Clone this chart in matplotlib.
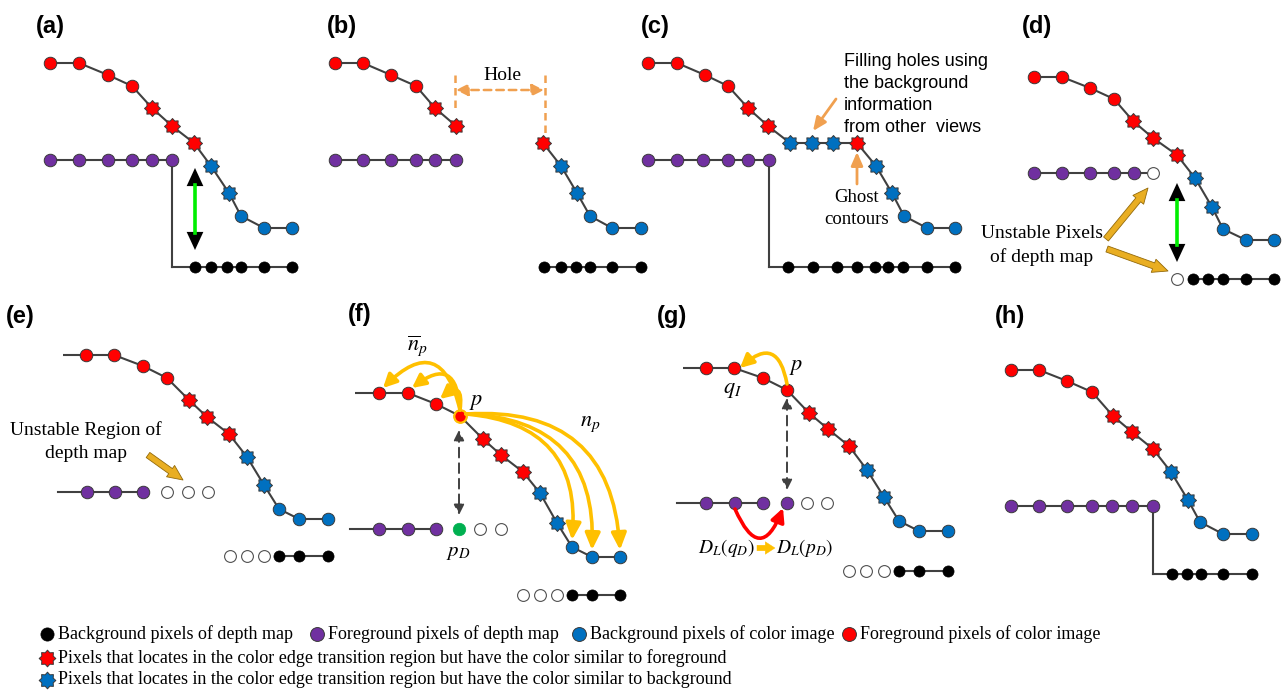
"""
Depth/colour edge schematic, panels (a)-(h), redrawn with matplotlib.

One axes covers the whole figure in pixel units (y pointing down), so every
pixel row is drawn from the small point lists below.
"""

import numpy as np
import matplotlib

matplotlib.use("Agg")
import matplotlib.pyplot as plt
from matplotlib.path import Path
from matplotlib.patches import FancyArrowPatch

plt.rcParams["mathtext.fontset"] = "stix"

SERIF = "Liberation Serif"
SANS = "Liberation Sans"

# ---- data: (x, y, kind) along the colour-image edge profile -------------
# kind: R red circle, r red star, b blue star, B blue circle
A_COLOR = [(50, 63, "R"), (79, 63, "R"), (108, 75, "R"), (132, 86, "R"), (152, 108, "r"),
           (172, 126, "r"), (194, 143, "r"), (211, 166, "b"), (229, 193, "b"),
           (241, 216, "B"), (264, 228, "B"), (292, 228, "B")]
B_COLOR_LEFT = [(335, 63, "R"), (363, 63, "R"), (391, 75, "R"), (416, 86, "R"),
                (435, 108, "r"), (456, 126, "r")]
B_COLOR_RIGHT = [(543, 143, "r"), (561, 166, "b"), (577, 193, "b"), (590, 216, "B"),
                 (612, 228, "B"), (641, 228, "B")]
C_COLOR = [(648, 63, "R"), (677, 63, "R"), (705, 75, "R"), (728, 86, "R"), (748, 108, "r"),
           (768, 126, "r"), (790, 143, "b"), (812, 143, "b"), (833, 143, "b"),
           (857, 143, "r"), (876, 166, "b"), (892, 193, "b"), (904, 216, "B"),
           (927, 228, "B"), (955, 228, "B")]
D_COLOR = [(1034, 77, "R"), (1062, 77, "R"), (1090, 88, "R"), (1114, 99, "R"),
           (1133, 121, "r"), (1153, 138, "r"), (1177, 155, "r"), (1195, 178, "b"),
           (1212, 207, "b"), (1223, 229, "B"), (1246, 240, "B"), (1274, 240, "B")]
E_COLOR = [(86, 355, "R"), (114, 355, "R"), (143, 366, "R"), (167, 378, "R"),
           (189, 400, "r"), (207, 417, "r"), (229, 434, "r"), (247, 457, "b"),
           (264, 485, "b"), (279, 509, "B"), (299, 519, "B"), (328, 519, "B")]
F_COLOR = [(379, 393, "R"), (408, 393, "R"), (436, 404, "R"), (460, 416, "R"),
           (483, 439, "r"), (501, 455, "r"), (523, 472, "r"), (540, 493, "b"),
           (557, 523, "b"), (572, 547, "B"), (592, 557, "B"), (620, 557, "B")]
G_COLOR = [(706, 368, "R"), (734, 368, "R"), (763, 378, "R"), (787, 390, "R"),
           (809, 413, "r"), (828, 429, "r"), (849, 446, "r"), (867, 470, "b"),
           (884, 497, "b"), (899, 521, "B"), (919, 531, "B"), (948, 531, "B")]
H_COLOR = [(1011, 370, "R"), (1039, 370, "R"), (1067, 381, "R"), (1092, 392, "R"),
           (1113, 416, "r"), (1132, 432, "r"), (1153, 449, "r"), (1171, 472, "b"),
           (1188, 500, "b"), (1200, 522, "B"), (1223, 534, "B"), (1252, 534, "B")]
COLOR_STUB_X = {"e": 63, "f": 355, "g": 683}

# ---- data: depth-map rows (y, xs, kinds, line span) ----------------------
# kind: P purple, K black, O unstable (open), G green p_D
A_FG = (160, [50, 79, 108, 132, 152, 172], "PPPPPP", (50, 172))
A_BG = (267, [195, 211, 227, 241, 264, 292], "KKKKKK", (172, 292))
B_FG = (160, [335, 363, 391, 416, 435, 456], "PPPPPP", (335, 456))
B_BG = (267, [544, 561, 576, 590, 612, 641], "KKKKKK", (544, 641))
C_FG = (160, [648, 677, 703, 728, 748, 769], "PPPPPP", (648, 769))
C_BG = (267, [788, 813, 837, 857, 875, 888, 903, 927, 955], "KKKKKKKKK", (769, 955))
D_FG = (173, [1034, 1062, 1090, 1114, 1134, 1153], "PPPPPO", (1034, 1153))
D_BG = (279, [1177, 1193, 1208, 1223, 1246, 1274], "OKKKKK", (1193, 1274))
E_FG = (492, [87, 115, 143, 167, 188, 208], "PPPOOO", (58, 143))
E_BG = (556, [230, 247, 264, 279, 299, 328], "OOOKKK", (279, 328))
F_FG = (529, [379, 408, 436, 459, 480, 501], "PPPGOO", (350, 436))
F_BG = (595, [523, 540, 557, 572, 592, 620], "OOOKKK", (572, 620))
G_FG = (503, [706, 735, 763, 787, 807, 827], "PPPPOO", (677, 763))
G_BG = (571, [849, 866, 884, 899, 919, 948], "OOOKKK", (899, 948))
H_FG = (506, [1011, 1039, 1067, 1092, 1112, 1132, 1153], "PPPPPPP", (1011, 1153))
H_BG = (574, [1172, 1187, 1201, 1223, 1252], "KKKKK", (1153, 1252))
STEP_PANELS = [(A_FG, A_BG), (C_FG, C_BG), (H_FG, H_BG)]

PANEL_LABELS = ["(a)", "(b)", "(c)", "(d)", "(e)", "(f)", "(g)", "(h)"]
PANEL_LABEL_XY = [(36, 26), (327, 26), (641, 26), (1022, 26),
                  (6, 316), (348, 315), (657, 317), (995, 316)]

LEGEND_ROW1 = ["Background pixels of depth map", "Foreground pixels of depth map",
               "Background pixels of color image", "Foreground pixels of color image"]
LEGEND_ROW1_KINDS = "KPBR"
LEGEND_ROW2 = "Pixels that locates in the color edge transition region but have the color similar to foreground"
LEGEND_ROW3 = "Pixels that locates in the color edge transition region but have the color similar to background"

# ---- styles ---------------------------------------------------------------
LINE_C = "#404040"
RED, BLUE, PURPLE = "#FF0000", "#0070C0", "#7030A0"
ORANGE = "#F0A050"
GOLD = "#FFC000"
ARROW_GOLD = "#E9AE22"
LEGEND_FS = 13


def star_path(n=8, inner=0.74):
    ang = np.arange(2 * n) * np.pi / n + np.pi / 2
    r = np.where(np.arange(2 * n) % 2 == 0, 1.0, inner)
    verts = np.column_stack([r * np.cos(ang), r * np.sin(ang)])
    return Path(np.vstack([verts, verts[:1]]), closed=True)


STAR = star_path()
EDGE = dict(mec="#3a3a3a", mew=0.7)
KIND_STYLE = {
    "R": dict(marker="o", ms=9, mfc=RED, **EDGE),
    "B": dict(marker="o", ms=9, mfc=BLUE, **EDGE),
    "P": dict(marker="o", ms=9, mfc=PURPLE, **EDGE),
    "K": dict(marker="o", ms=8, mfc="black", mec="black", mew=0.5),
    "O": dict(marker="o", ms=8.5, mfc="white", mec="#505050", mew=0.8),
    "G": dict(marker="o", ms=9, mfc="#00B050", mec="#00B050", mew=0.5),
    "r": dict(marker=STAR, ms=11.5, mfc=RED, **EDGE),
    "b": dict(marker=STAR, ms=11.5, mfc=BLUE, **EDGE),
}


def draw_marker(ax, x, y, kind, **extra):
    st = dict(KIND_STYLE[kind])
    st.update(extra)
    ax.plot([x], [y], linestyle="none", zorder=3, **st)


def draw_curve(ax, pts, stub_x=None):
    xs = [p[0] for p in pts]
    ys = [p[1] for p in pts]
    if stub_x is not None:
        xs, ys = [stub_x] + xs, [ys[0]] + ys
    ax.plot(xs, ys, color=LINE_C, lw=1.5, zorder=1, solid_capstyle="butt")
    for x, y, k in pts:
        draw_marker(ax, x, y, k)


def draw_row(ax, row):
    y, xs, kinds, span = row
    ax.plot(span, [y, y], color=LINE_C, lw=1.5, zorder=1)
    for x, k in zip(xs, kinds):
        draw_marker(ax, x, y, k)


def arrow(ax, a, b, style, **kw):
    kw.setdefault("shrinkA", 0)
    kw.setdefault("shrinkB", 0)
    p = FancyArrowPatch(a, b, arrowstyle=style, mutation_scale=1, zorder=4, **kw)
    ax.add_patch(p)
    return p


def green_arrow(ax, x, y0, y1):
    arrow(ax, (x, y0), (x, y1), "<|-|>,head_length=13,head_width=6",
          color="black", lw=0.01)
    ax.plot([x, x], [y0 + 17, y1 - 17], color="#00EE00", lw=2.6, zorder=4)


def fat_arrow(ax, a, b, scale=1.0):
    arrow(ax, a, b,
          f"simple,head_length={11*scale},head_width={10*scale},tail_width={4.5*scale}",
          fc=ARROW_GOLD, ec="#946A0A", lw=0.6)


fig = plt.figure(figsize=(12.83, 6.95), dpi=100)
ax = fig.add_axes([0, 0, 1, 1])
ax.set_xlim(0, 1283)
ax.set_ylim(695, 0)
ax.axis("off")

# profiles
draw_curve(ax, A_COLOR)
draw_curve(ax, B_COLOR_LEFT)
draw_curve(ax, B_COLOR_RIGHT)
draw_curve(ax, C_COLOR)
draw_curve(ax, D_COLOR)
draw_curve(ax, E_COLOR, COLOR_STUB_X["e"])
draw_curve(ax, F_COLOR, COLOR_STUB_X["f"])
draw_curve(ax, G_COLOR, COLOR_STUB_X["g"])
draw_curve(ax, H_COLOR)

for row in [A_FG, A_BG, B_FG, B_BG, C_FG, C_BG, D_FG, D_BG, E_FG, E_BG,
            F_FG, F_BG, G_FG, G_BG, H_FG, H_BG]:
    draw_row(ax, row)
for fg, bg in STEP_PANELS:
    ax.plot([fg[1][-1]] * 2, [fg[0], bg[0]], color=LINE_C, lw=1.5, zorder=1)

# p in (f) has a gold rim
draw_marker(ax, F_COLOR[3][0], F_COLOR[3][1], "R", mec=GOLD, mew=1.6)

# panel labels
for lab, (x, y) in zip(PANEL_LABELS, PANEL_LABEL_XY):
    ax.text(x, y, lab, ha="left", va="center", fontsize=17, fontweight="bold",
            family=SANS)

# (a), (d): depth jump arrows
green_arrow(ax, 195, 168, 250)
green_arrow(ax, 1177, 183, 262)

# (b): hole
for x, y1 in [(455, 110), (545, 133)]:
    ax.plot([x, x], [75, y1], color=ORANGE, lw=1.8, ls=(0, (3, 2)), zorder=2)
arrow(ax, (456, 90), (544, 90), "<|-|>,head_length=7,head_width=3.5",
      color=ORANGE, lw=1.8, ls=(0, (3, 2)))
ax.text(502, 76, "Hole", ha="center", va="center", fontsize=14, family=SERIF)

# (c): filling + ghost contours
for i, line in enumerate(["Filling holes using", "the background", "information",
                          "from other  views"]):
    ax.text(844, 61 + i * 22, line, ha="left", va="center", fontsize=13, family=SANS)
arrow(ax, (836, 99), (813, 131), "-|>,head_length=8,head_width=3.5", color=ORANGE, lw=2)
arrow(ax, (857, 184), (857, 152), "-|>,head_length=8,head_width=3.5", color=ORANGE, lw=2)
ax.text(857, 198, "Ghost", ha="center", va="center", fontsize=13.5, family=SERIF)
ax.text(857, 219, "contours", ha="center", va="center", fontsize=13.5, family=SERIF)

# (d): unstable pixels
ax.text(1042, 233, "Unstable Pixels", ha="center", va="center", fontsize=14, family=SERIF)
ax.text(1042, 257, "of depth map", ha="center", va="center", fontsize=14, family=SERIF)
fat_arrow(ax, (1106, 239), (1148, 188))
fat_arrow(ax, (1107, 249), (1168, 271))

# (e): unstable region
ax.text(86, 430, "Unstable Region of", ha="center", va="center", fontsize=14, family=SERIF)
ax.text(86, 453, "depth map", ha="center", va="center", fontsize=14, family=SERIF)
fat_arrow(ax, (148, 455), (183, 480))

# (f): neighbour arcs around p
px, py = F_COLOR[3][0], F_COLOR[3][1]
for (tx, ty, _), rad in zip(F_COLOR[:3], [0.9, 0.95, 1.3]):
    arrow(ax, (px, py - 6), (tx + 4, ty - 5), "-|>,head_length=8,head_width=4",
          color=GOLD, lw=2.6, connectionstyle=f"arc3,rad={rad}")
for tx, ty, _ in F_COLOR[-3:]:
    arrow(ax, (px + 6, py - 2), (tx, ty - 7), "-|>,head_length=10,head_width=4.5",
          color=GOLD, lw=2.6, connectionstyle="arc3,rad=-0.5")
arrow(ax, (459, 430), (459, 515), "<|-|>,head_length=6,head_width=3",
      color=LINE_C, lw=1.4, ls=(0, (5, 3)))
ax.text(417, 345, r"$\overline{n}_p$", ha="center", va="center", fontsize=16)
ax.text(476, 402, r"$p$", ha="center", va="center", fontsize=16)
ax.text(590, 424, r"$n_p$", ha="center", va="center", fontsize=16)
ax.text(458, 552, r"$p_D$", ha="center", va="center", fontsize=15)

# (g): propagation of depth label
gx, gy = G_COLOR[3][0], G_COLOR[3][1]
arrow(ax, (gx, gy - 6), (G_COLOR[1][0] + 6, G_COLOR[1][1]),
      "-|>,head_length=8,head_width=4", color=GOLD, lw=2.6,
      connectionstyle="arc3,rad=0.9")
fy, fxs = G_FG[0], G_FG[1]
arrow(ax, (fxs[1], fy + 6), (fxs[3] - 4, fy + 5), "-|>,head_length=8,head_width=4",
      color=RED, lw=2.6, connectionstyle="arc3,rad=1.2")
arrow(ax, (787, 398), (787, 490), "<|-|>,head_length=6,head_width=3",
      color=LINE_C, lw=1.4, ls=(0, (5, 3)))
ax.text(796, 367, r"$p$", ha="center", va="center", fontsize=16)
ax.text(733, 390, r"$q_I$", ha="center", va="center", fontsize=16)
ax.text(755, 548, r"$D_L(q_D)$", ha="right", va="center", fontsize=14)
ax.text(776, 548, r"$D_L(p_D)$", ha="left", va="center", fontsize=14)
arrow(ax, (757, 548), (775, 548), "simple,head_length=7,head_width=9,tail_width=4",
      fc=GOLD, ec=GOLD, lw=0.3)

# legend
renderer = fig.canvas.get_renderer()
inv = ax.transData.inverted()
x = 47
for label, kind, gap in zip(LEGEND_ROW1, LEGEND_ROW1_KINDS, [24, 20, 14, 0]):
    draw_marker(ax, x, 634, kind, ms=10 if kind != "K" else 9.5)
    t = ax.text(x + 11, 634, label, ha="left", va="center", fontsize=LEGEND_FS,
                family=SERIF)
    bb = t.get_window_extent(renderer)
    x = inv.transform((bb.x1, 0))[0] + gap
for y, label, kind in [(658, LEGEND_ROW2, "r"), (680, LEGEND_ROW3, "b")]:
    draw_marker(ax, 47, y, kind, ms=12)
    ax.text(58, y, label, ha="left", va="center", fontsize=LEGEND_FS, family=SERIF)

fig.savefig("out.png", dpi=100)
